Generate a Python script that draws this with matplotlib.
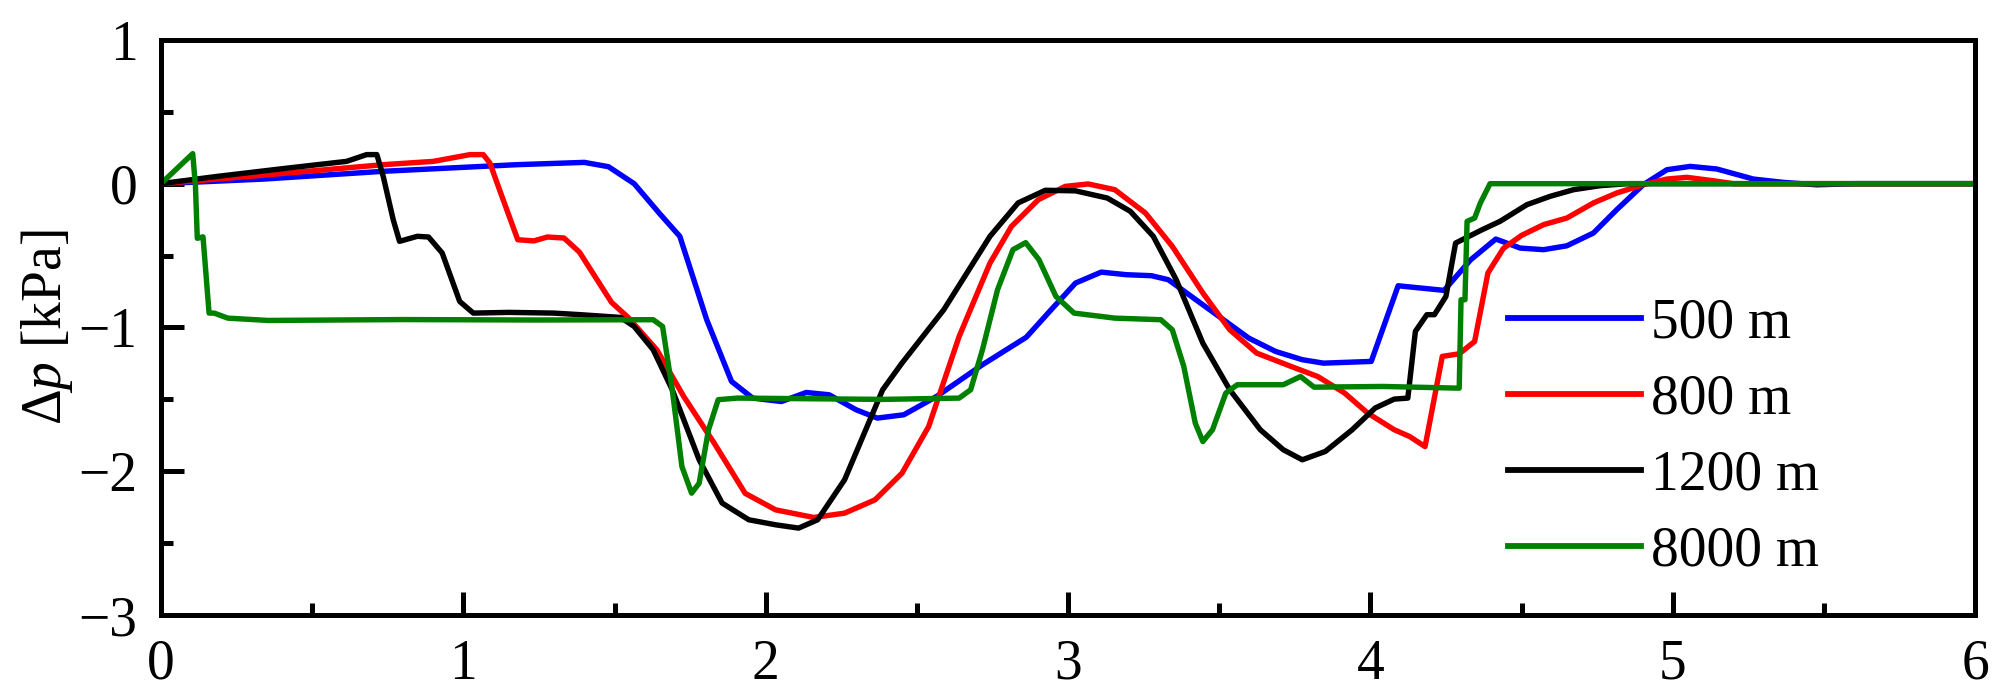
import matplotlib
matplotlib.use("Agg")
import matplotlib.pyplot as plt
from matplotlib.ticker import MultipleLocator

plt.rcParams['font.family'] = ['Liberation Serif', 'DejaVu Serif']
plt.rcParams['mathtext.fontset'] = 'custom'
plt.rcParams['mathtext.rm'] = 'Liberation Serif'
plt.rcParams['mathtext.it'] = 'Liberation Serif:italic'

# ---- data ----
t_500 = [0, 0.34, 0.735, 1.177, 1.40, 1.48, 1.565, 1.65, 1.716, 1.805, 1.887, 1.957, 2.052,
         2.134, 2.21, 2.299, 2.369, 2.457, 2.565, 2.717, 2.862, 2.944, 3.025, 3.11, 3.193,
         3.276, 3.332, 3.484, 3.598, 3.687, 3.775, 3.845, 4.003, 4.092, 4.244, 4.332, 4.415,
         4.496, 4.573, 4.65, 4.738, 4.815, 4.903, 4.981, 5.058, 5.146, 5.267, 5.366, 5.477,
         5.6, 6.0]
p_500 = [0, 0.032, 0.086, 0.132, 0.148, 0.118, 0.0, -0.21, -0.366, -0.946, -1.375, -1.491,
         -1.515, -1.452, -1.468, -1.572, -1.63, -1.607, -1.48, -1.259, -1.068, -0.877, -0.691,
         -0.615, -0.633, -0.64, -0.668, -0.9, -1.074, -1.167, -1.224, -1.248, -1.236, -0.71,
         -0.742, -0.529, -0.385, -0.448, -0.459, -0.432, -0.343, -0.181, -0.007, 0.097, 0.12,
         0.102, 0.032, 0.009, -0.008, 0, 0]

t_800 = [0, 0.294, 0.735, 0.901, 1.022, 1.066, 1.088, 1.121, 1.18, 1.233, 1.278, 1.333,
         1.384, 1.49, 1.545, 1.64, 1.729, 1.83, 1.932, 2.033, 2.159, 2.261, 2.362, 2.451,
         2.539, 2.64, 2.742, 2.813, 2.902, 2.991, 3.067, 3.155, 3.256, 3.345, 3.446, 3.535,
         3.624, 3.738, 3.826, 3.915, 3.991, 4.079, 4.13, 4.181, 4.238, 4.294, 4.345, 4.389,
         4.44, 4.5, 4.573, 4.65, 4.738, 4.815, 4.903, 4.981, 5.047, 5.135, 5.2, 6.0]
p_800 = [0, 0.051, 0.132, 0.155, 0.202, 0.202, 0.143, -0.05, -0.39, -0.398, -0.371, -0.378,
         -0.476, -0.825, -0.93, -1.155, -1.48, -1.805, -2.153, -2.268, -2.321, -2.291, -2.198,
         -2.013, -1.689, -1.062, -0.552, -0.297, -0.111, -0.019, -0.002, -0.042, -0.204,
         -0.436, -0.76, -1.016, -1.178, -1.271, -1.341, -1.456, -1.595, -1.711, -1.758,
         -1.828, -1.201, -1.183, -1.097, -0.621, -0.45, -0.36, -0.285, -0.239, -0.134, -0.065,
         -0.007, 0.032, 0.044, 0.02, 0, 0]

t_1200 = [0, 0.184, 0.405, 0.614, 0.68, 0.714, 0.735, 0.768, 0.789, 0.848, 0.885, 0.93,
          0.988, 1.033, 1.151, 1.299, 1.387, 1.52, 1.565, 1.628, 1.691, 1.78, 1.856, 1.944,
          2.033, 2.109, 2.172, 2.261, 2.387, 2.451, 2.589, 2.742, 2.835, 2.925, 3.025, 3.13,
          3.206, 3.282, 3.358, 3.446, 3.535, 3.636, 3.712, 3.775, 3.851, 3.94, 4.016, 4.079,
          4.124, 4.149, 4.187, 4.212, 4.25, 4.282, 4.37, 4.429, 4.518, 4.595, 4.672, 4.76,
          4.85, 6.0]
p_1200 = [0, 0.05, 0.105, 0.155, 0.202, 0.202, 0.051, -0.25, -0.401, -0.366, -0.371, -0.482,
          -0.819, -0.9, -0.895, -0.9, -0.911, -0.93, -0.993, -1.155, -1.433, -1.92, -2.221,
          -2.337, -2.372, -2.395, -2.337, -2.059, -1.433, -1.247, -0.877, -0.366, -0.134,
          -0.046, -0.05, -0.1, -0.192, -0.366, -0.668, -1.109, -1.433, -1.711, -1.85, -1.92,
          -1.862, -1.711, -1.56, -1.498, -1.491, -1.027, -0.911, -0.911, -0.784, -0.413,
          -0.32, -0.262, -0.146, -0.088, -0.042, -0.014, 0, 0]

t_8000 = [0, 0.105, 0.114, 0.12, 0.139, 0.159, 0.176, 0.221, 0.354, 0.8, 1.24, 1.628, 1.659,
          1.691, 1.723, 1.755, 1.78, 1.811, 1.843, 1.906, 2.387, 2.64, 2.678, 2.717, 2.767,
          2.818, 2.86, 2.904, 2.96, 3.02, 3.155, 3.307, 3.345, 3.383, 3.421, 3.446, 3.478,
          3.522, 3.56, 3.712, 3.769, 3.814, 4.041, 4.294, 4.3, 4.313, 4.32, 4.345, 4.364,
          4.396, 6.0]
p_8000 = [0, 0.209, -0.019, -0.38, -0.37, -0.9, -0.9, -0.935, -0.951, -0.945, -0.948, -0.946,
          -0.993, -1.433, -1.967, -2.152, -2.083, -1.711, -1.502, -1.491, -1.5, -1.491, -1.433,
          -1.155, -0.737, -0.459, -0.41, -0.529, -0.784, -0.9, -0.935, -0.946, -1.016, -1.271,
          -1.665, -1.793, -1.711, -1.456, -1.398, -1.398, -1.341, -1.415, -1.41, -1.422,
          -0.807, -0.807, -0.262, -0.239, -0.134, 0.0, 0]

labels = ["500 m", "800 m", "1200 m", "8000 m"]
colors = ["#0000ff", "#ff0000", "#000000", "#008000"]

fig = plt.figure(figsize=(20, 6.99), dpi=100)
ax = fig.add_axes([0.0805, 0.12, 0.907, 0.823])

series = [(t_500, p_500), (t_800, p_800), (t_1200, p_1200), (t_8000, p_8000)]
for (t, p), c, lab in zip(series, colors, labels):
    ax.plot(t, p, color=c, lw=3.9, label=lab, solid_joinstyle='round')

ax.set_xlim(0, 6)
ax.set_ylim(-3, 1)
ax.xaxis.set_major_locator(MultipleLocator(1))
ax.xaxis.set_minor_locator(MultipleLocator(0.5))
ax.yaxis.set_major_locator(MultipleLocator(1))
ax.yaxis.set_minor_locator(MultipleLocator(0.5))

for s in ax.spines.values():
    s.set_linewidth(3.6)
ax.tick_params(which='both', direction='in', top=False, right=False, width=3.6,
               labelsize=40)
ax.tick_params(which='major', length=16.5, pad=17)
ax.tick_params(which='minor', length=8.5)

ax.set_ylabel(r"$\Delta p$ [kPa]", fontsize=40, labelpad=2)

leg = ax.legend(loc='upper left', bbox_to_anchor=(0.7426, 0.552), frameon=False,
                fontsize=40, handlelength=2.4, handletextpad=0.18, labelspacing=0.43,
                borderpad=0, borderaxespad=0)
for h in leg.get_lines():
    h.set_linewidth(4.2)

fig.savefig("out.png", dpi=100)
